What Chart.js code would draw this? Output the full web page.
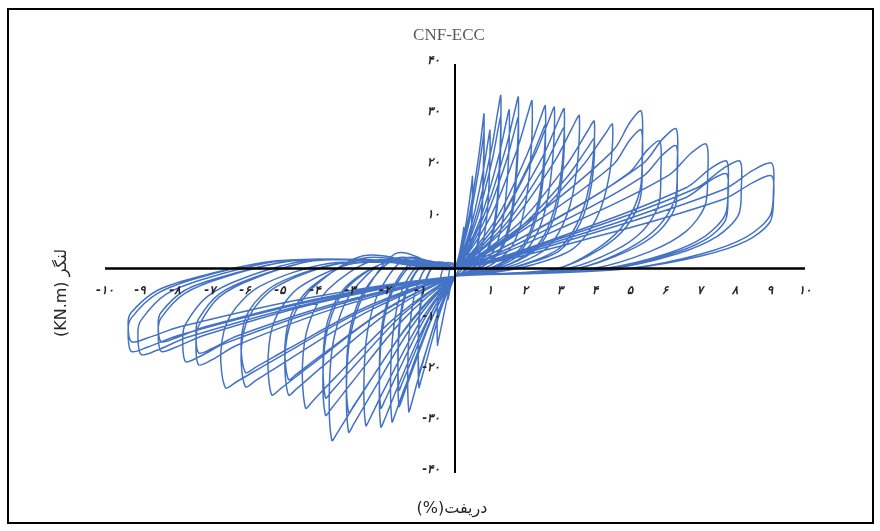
<!DOCTYPE html>
<html lang="fa">
<head>
    <meta charset="UTF-8">
    <title>CNF-ECC</title>
    <script src="https://cdn.jsdelivr.net/npm/chart.js"></script>
    <style>
        body {
            margin: 0;
            padding: 0;
            background: #fff;
        }

        #wrap {
            position: relative;
            width: 880px;
            height: 531px;
            overflow: hidden;
        }

        #frame {
            position: absolute;
            left: 7px;
            top: 8px;
            width: 863px;
            height: 512px;
            border: 2px solid #000;
            pointer-events: none;
        }

        .lbl {
            position: absolute;
            transform: translate(-50%, -50%);
            white-space: nowrap;
            color: #262626;
        }

        #title {
            left: 449px;
            top: 35px;
            font-family: "Liberation Serif", serif;
            font-size: 17px;
            color: #595959;
        }

        #xTitle {
            left: 452px;
            top: 507px;
            font-family: "DejaVu Sans", sans-serif;
            font-size: 16px;
        }

        #yTitle {
            left: 60px;
            top: 293px;
            font-family: "DejaVu Sans", sans-serif;
            font-size: 16px;
            transform: translate(-50%, -50%) rotate(-90deg);
        }
    </style>
</head>
<body>
    <div id="wrap">
        <canvas id="chart" width="880" height="531"></canvas>
        <div id="frame"></div>
        <div class="lbl" id="title">CNF-ECC</div>
        <div class="lbl" id="yTitle" dir="rtl">لنگر (KN.m)</div>
        <div class="lbl" id="xTitle" dir="rtl">دریفت(%)</div>
    </div>

    <script>
        const drift = [
            0, 0.11, 0.2, 0.24, 0.25, 0.25, 0.23, 0.19, 0.13, 0.05, 0, -0.08, -0.16, -0.19, -0.2, -0.2, -0.2, -0.17, -0.11, -0.04,
            0, 0.23, 0.4, 0.48, 0.5, 0.49, 0.45, 0.38, 0.25, 0.1, 0, -0.2, -0.4, -0.48, -0.5, -0.51, -0.49, -0.43, -0.28, -0.1,
            0, 0.37, 0.66, 0.79, 0.83, 0.81, 0.75, 0.62, 0.42, 0.17, 0, -0.41, -0.82, -0.98, -1.03, -1.05, -1.01, -0.88, -0.57, -0.21,
            0, 0.37, 0.66, 0.79, 0.83, 0.81, 0.75, 0.62, 0.42, 0.17, 0, -0.41, -0.82, -0.98, -1.03, -1.05, -1.01, -0.88, -0.57, -0.21,
            0, 0.45, 0.8, 0.95, 1, 0.98, 0.9, 0.75, 0.5, 0.2, 0, -0.53, -1.06, -1.25, -1.32, -1.35, -1.29, -1.12, -0.73, -0.26,
            0, 0.59, 1.05, 1.24, 1.31, 1.28, 1.18, 0.98, 0.66, 0.26, 0, -0.64, -1.28, -1.52, -1.6, -1.63, -1.57, -1.36, -0.88, -0.32,
            0, 0.59, 1.05, 1.24, 1.31, 1.28, 1.18, 0.98, 0.66, 0.26, 0, -0.64, -1.28, -1.52, -1.6, -1.63, -1.57, -1.36, -0.88, -0.32,
            0, 0.7, 1.24, 1.47, 1.55, 1.52, 1.4, 1.16, 0.78, 0.31, 0, -0.72, -1.44, -1.71, -1.8, -1.84, -1.76, -1.53, -0.99, -0.36,
            0, 0.81, 1.45, 1.72, 1.81, 1.77, 1.63, 1.36, 0.91, 0.36, 0, -0.85, -1.7, -2.01, -2.12, -2.16, -2.08, -1.8, -1.17, -0.42,
            0, 0.81, 1.45, 1.72, 1.81, 1.77, 1.63, 1.36, 0.91, 0.36, 0, -0.85, -1.7, -2.01, -2.12, -2.16, -2.08, -1.8, -1.17, -0.42,
            0, 0.99, 1.76, 2.09, 2.2, 2.16, 1.98, 1.65, 1.1, 0.44, 0, -1.02, -2.04, -2.42, -2.55, -2.6, -2.5, -2.17, -1.4, -0.51,
            0, 1.16, 2.06, 2.45, 2.58, 2.53, 2.32, 1.94, 1.29, 0.52, 0, -1.22, -2.43, -2.89, -3.04, -3.1, -2.98, -2.58, -1.67, -0.61,
            0, 1.16, 2.06, 2.45, 2.58, 2.53, 2.32, 1.94, 1.29, 0.52, 0, -1.22, -2.43, -2.89, -3.04, -3.1, -2.98, -2.58, -1.67, -0.61,
            0, 1.28, 2.27, 2.7, 2.84, 2.78, 2.56, 2.13, 1.42, 0.57, 0, -1.41, -2.82, -3.34, -3.52, -3.59, -3.45, -2.99, -1.94, -0.7,
            0, 1.4, 2.5, 2.96, 3.12, 3.06, 2.81, 2.34, 1.56, 0.62, 0, -1.48, -2.96, -3.52, -3.7, -3.77, -3.63, -3.15, -2.04, -0.74,
            0, 1.4, 2.5, 2.96, 3.12, 3.06, 2.81, 2.34, 1.56, 0.62, 0, -1.48, -2.96, -3.52, -3.7, -3.77, -3.63, -3.15, -2.04, -0.74,
            0, 1.6, 2.84, 3.37, 3.55, 3.48, 3.2, 2.66, 1.78, 0.71, 0, -1.71, -3.42, -4.06, -4.27, -4.36, -4.18, -3.63, -2.35, -0.85,
            0, 1.79, 3.18, 3.78, 3.98, 3.9, 3.58, 2.99, 1.99, 0.8, 0, -1.9, -3.81, -4.52, -4.76, -4.86, -4.66, -4.05, -2.62, -0.95,
            0, 1.79, 3.18, 3.78, 3.98, 3.9, 3.58, 2.99, 1.99, 0.8, 0, -1.9, -3.81, -4.52, -4.76, -4.86, -4.66, -4.05, -2.62, -0.95,
            0, 2.03, 3.6, 4.28, 4.5, 4.41, 4.05, 3.38, 2.25, 0.9, 0, -2.1, -4.19, -4.98, -5.24, -5.34, -5.14, -4.45, -2.88, -1.05,
            0, 2.39, 4.52, 5, 5.32, 5.35, 5.29, 4.89, 4.15, 2.93, 1.33, 0, -2.4, -4.79, -5.69, -5.99, -6.11, -5.87, -5.09, -3.29, -1.2,
            0, 2.39, 4.52, 5, 5.32, 5.35, 5.29, 4.89, 4.15, 2.93, 1.33, 0, -2.4, -4.79, -5.69, -5.99, -6.11, -5.87, -5.09, -3.29, -1.2,
            0, 2.63, 4.97, 5.5, 5.85, 5.88, 5.82, 5.38, 4.56, 3.22, 1.46, 0, -2.62, -5.25, -6.23, -6.56, -6.69, -6.43, -5.58, -3.61, -1.31,
            0, 2.84, 5.37, 5.94, 6.32, 6.35, 6.29, 5.81, 4.93, 3.48, 1.58, 0, -3.3, -6.23, -6.96, -7.33, -7.4, -7.33, -6.74, -5.72, -4.03, -1.83,
            0, 2.84, 5.37, 5.94, 6.32, 6.35, 6.29, 5.81, 4.93, 3.48, 1.58, 0, -3.3, -6.23, -6.96, -7.33, -7.4, -7.33, -6.74, -5.72, -4.03, -1.83,
            0, 3.23, 6.1, 6.75, 7.18, 7.22, 7.14, 6.61, 5.6, 3.95, 1.8, 0, -3.47, -6.55, -7.32, -7.7, -7.78, -7.7, -7.08, -6.01, -4.24, -1.93,
            0, 3.49, 6.6, 7.29, 7.76, 7.8, 7.72, 7.14, 6.05, 4.27, 1.94, 0, -3.78, -7.14, -7.98, -8.4, -8.48, -8.4, -7.73, -6.55, -4.62, -2.1,
            0, 3.49, 6.6, 7.29, 7.76, 7.8, 7.72, 7.14, 6.05, 4.27, 1.94, 0, -3.78, -7.14, -7.98, -8.4, -8.48, -8.4, -7.73, -6.55, -4.62, -2.1,
            0, 3.66, 6.92, 7.65, 8.14, 8.18, 8.1, 7.49, 6.35, 4.48, 2.04, 0, -4.04, -7.62, -8.52, -8.97, -9.06, -8.97, -8.25, -7, -4.93, -2.24,
            0, 4.07, 7.69, 8.51, 9.05, 9.1, 9, 8.33, 7.06, 4.98, 2.26, 0, -4.16, -7.86, -8.79, -9.25, -9.34, -9.25, -8.51, -7.22, -5.09, -2.31,
            0, 4.07, 7.69, 8.51, 9.05, 9.1, 9, 8.33, 7.06, 4.98, 2.26, 0, -4.16, -7.86, -8.79, -9.25, -9.34, -9.25, -8.51, -7.22, -5.09, -2.31, 0
        ];

        // moment (KN.m), same order as drift
        const moment = [
            0, 2.4, 5.6, 7.4, 8, 5.2, 2.8, 1.1, 0.2, -1, -1.5, -2.1, -4.7, -5.7, -6, -4.2, -2.4, -0.9, 1, 1,
            0, 5.4, 12.6, 16.7, 18, 11.7, 6.3, 2.5, 0.5, -1, -1.5, -5.3, -11.7, -14.3, -15, -10.5, -6, -2.3, 1, 1,
            0, 9.1, 21.1, 28.1, 30.2, 19.6, 10.6, 4.2, 0.9, -1, -1.5, -8.2, -18.2, -22.1, -23.3, -16.3, -9.3, -3.5, 1, 1,
            0, 8, 18.6, 24.7, 26.6, 17.3, 9.3, 3.7, 0.8, -1, -1.5, -7.2, -16, -19.5, -20.5, -14.4, -8.2, -3.1, 1, 1,
            0, 8.1, 18.9, 25.1, 27, 17.6, 9.5, 3.8, 0.8, -1, -1.5, -9.8, -21.8, -26.6, -28, -19.6, -11.2, -4.2, 1, 1,
            0, 10.1, 23.7, 31.4, 33.8, 22, 11.8, 4.7, 1, -1, -1.5, -9.5, -21.1, -25.7, -27, -18.9, -10.8, -4.1, 1, 1,
            0, 8.9, 20.8, 27.6, 29.7, 19.3, 10.4, 4.2, 0.9, -1, -1.5, -8.3, -18.6, -22.6, -23.8, -16.7, -9.5, -3.6, 1, 1,
            0, 9.3, 21.7, 28.8, 31, 20.2, 10.9, 4.3, 0.9, -1, -1.5, -10.5, -23.4, -28.5, -30, -21, -12, -4.5, 1, 1,
            0, 10.1, 23.5, 31.2, 33.5, 21.8, 11.7, 4.7, 1, -1, -1.5, -10.9, -24.2, -29.5, -31, -21.7, -12.4, -4.7, 1, 1,
            0, 8.9, 20.7, 27.4, 29.5, 19.2, 10.3, 4.1, 0.9, -1, -1.5, -9.6, -21.3, -25.9, -27.3, -19.1, -10.9, -4.1, 1.5, 1,
            0, 9.8, 23, 30.5, 32.8, 21.3, 11.5, 4.6, 1, -1, -1.5, -10.7, -23.9, -29.2, -30.7, -21.5, -12.3, -4.6, 2, 1,
            0, 9.5, 22.3, 29.6, 31.8, 20.7, 11.1, 4.5, 1, -1, -1.5, -11.2, -25, -30.4, -32, -22.4, -12.8, -4.8, 3, 1,
            0, 8.4, 19.6, 26, 28, 18.2, 9.8, 3.9, 0.8, -1, -1.5, -9.9, -22, -26.8, -28.2, -19.7, -11.3, -4.2, 2, 1,
            0, 9.5, 22.1, 29.3, 31.5, 20.5, 11, 4.4, 0.9, -1, -1.5, -11.8, -26.2, -31.9, -33.6, -23.5, -13.4, -5, 1.5, 1,
            0, 9.4, 21.8, 29, 31.2, 20.3, 10.9, 4.4, 0.9, -1, -1.5, -10, -22.4, -27.3, -28.7, -20.1, -11.5, -4.3, 1, 1,
            0, 8.3, 19.3, 25.6, 27.5, 17.9, 9.6, 3.9, 0.8, -1, -1.5, -8.9, -19.7, -24, -25.3, -17.7, -10.1, -3.8, 1, 1,
            0, 9, 20.9, 27.8, 29.9, 19.4, 10.5, 4.2, 0.9, -1, -1.5, -9.6, -21.3, -25.9, -27.3, -19.1, -10.9, -4.1, 1.5, 1,
            0, 8.6, 20.2, 26.8, 28.8, 18.7, 10.1, 4, 0.9, -1, -1.5, -8.6, -19.3, -23.5, -24.7, -17.3, -9.9, -3.7, 2.5, 1,
            0, 7.6, 17.7, 23.5, 25.3, 16.4, 8.9, 3.5, 0.8, -1, -1.5, -7.6, -16.9, -20.6, -21.7, -15.2, -8.7, -3.3, 2, 1,
            0, 8.5, 19.7, 26.2, 28.2, 18.3, 9.9, 3.9, 0.8, -1, -1.5, -8.6, -19.3, -23.5, -24.7, -17.3, -9.9, -3.7, 1, 1,
            0, 10.8, 23.1, 28.6, 30.8, 23.1, 15.4, 9.2, 4.3, 0, -1, -1.5, -8.1, -18, -21.9, -23.1, -16.2, -9.2, -3.5, 1, 1,
            0, 9.5, 20.3, 25.2, 27.1, 20.3, 13.6, 8.1, 3.8, 0, -1, -1.5, -7.1, -15.8, -19.3, -20.3, -14.2, -8.1, -3, 1, 1,
            0, 8.7, 18.7, 23.2, 24.9, 18.7, 12.5, 7.5, 3.5, 0, -1, -1.5, -8.2, -18.2, -22.1, -23.3, -16.3, -9.3, -3.5, 1, 1,
            0, 9.6, 20.5, 25.4, 27.3, 20.5, 13.7, 8.2, 3.8, 0, -1, -1.5, -7.5, -15, -17.9, -18.8, -14.1, -11.3, -5.6, -1.9, 1.5, 1.5,
            0, 8.4, 18, 22.3, 24, 18, 12, 7.2, 3.4, 0, -1, -1.5, -6.6, -13.2, -15.7, -16.5, -12.4, -9.9, -5, -1.7, 1.5, 1.5,
            0, 8.5, 18.2, 22.6, 24.3, 18.2, 12.2, 7.3, 3.4, 0, -1, -1.5, -7.3, -14.6, -17.3, -18.2, -13.7, -10.9, -5.5, -1.8, 1.5, 1.5,
            0, 7.4, 15.8, 19.5, 21, 15.8, 10.5, 6.3, 2.9, 0, -1, -1.5, -6.5, -13, -15.4, -16.2, -12.2, -9.7, -4.9, -1.6, 1.5, 1.5,
            0, 6.5, 13.9, 17.2, 18.5, 13.9, 9.3, 5.6, 2.6, 0, -1, -1.5, -5.7, -11.4, -13.6, -14.3, -10.7, -8.6, -4.3, -1.4, 1.5, 1.5,
            0, 7.4, 15.8, 19.5, 21, 15.8, 10.5, 6.3, 2.9, 0, -1, -1.5, -6.7, -13.4, -16, -16.8, -12.6, -10.1, -5, -1.7, 1.5, 1.5,
            0, 7.2, 15.5, 19.2, 20.6, 15.5, 10.3, 6.2, 2.9, 0, -1, -1.5, -6.5, -13, -15.4, -16.2, -12.2, -9.7, -4.9, -1.6, 1.5, 1.5,
            0, 6.3, 13.6, 16.8, 18.1, 13.6, 9.1, 5.4, 2.5, 0, -1, -1.5, -5.7, -11.4, -13.6, -14.3, -10.7, -8.6, -4.3, -1.4, 1.5, 1.5, 0
        ];

        const xTicks = [-10, -9, -8, -7, -6, -5, -4, -3, -2, -1, 1, 2, 3, 4, 5, 6, 7, 8, 9, 10];
        const xTickLabels = ['-۱۰', '-۹', '-۸', '-۷', '-۶', '-۵', '-۴', '-۳', '-۲', '-۱',
                             '۱', '۲', '۳', '۴', '۵', '۶', '۷', '۸', '۹', '۱۰'];
        const yTicks = [40, 30, 20, 10, -10, -20, -30, -40];
        const yTickLabels = ['۴۰', '۳۰', '۲۰', '۱۰', '-۱۰', '-۲۰', '-۳۰', '-۴۰'];

        const points = drift.map((d, i) => ({ x: d, y: moment[i] }));

        // axes cross at (0,0), labels sit beside the lines like the Excel original
        const crossAxes = {
            id: 'crossAxes',
            afterDatasetsDraw(chart) {
                const { ctx, scales: { x, y } } = chart;
                const x0 = x.getPixelForValue(0);
                const y0 = y.getPixelForValue(0);
                ctx.save();
                ctx.strokeStyle = '#000';
                ctx.lineWidth = 2.5;
                ctx.beginPath();
                ctx.moveTo(x.getPixelForValue(-10), y0);
                ctx.lineTo(x.getPixelForValue(10), y0);
                ctx.stroke();
                ctx.lineWidth = 2;
                ctx.beginPath();
                ctx.moveTo(x0, y.getPixelForValue(40));
                ctx.lineTo(x0, y.getPixelForValue(-40));
                ctx.stroke();

                ctx.fillStyle = '#262626';
                ctx.font = 'italic bold 12px "DejaVu Sans", sans-serif';
                ctx.textAlign = 'center';
                ctx.textBaseline = 'middle';
                xTicks.forEach((v, i) => {
                    ctx.fillText(xTickLabels[i], x.getPixelForValue(v), y0 + 22);
                });
                ctx.textAlign = 'right';
                yTicks.forEach((v, i) => {
                    ctx.fillText(yTickLabels[i], x0 - 15, y.getPixelForValue(v) - 3);
                });
                ctx.restore();
            }
        };

        new Chart(document.getElementById('chart').getContext('2d'), {
            type: 'scatter',
            data: {
                datasets: [{
                    data: points,
                    showLine: true,
                    borderColor: '#4472C4',
                    borderWidth: 1.5,
                    pointRadius: 0,
                    tension: 0.3
                }]
            },
            options: {
                responsive: false,
                animation: false,
                layout: { padding: { left: 105, right: 75, top: 64, bottom: 58 } },
                scales: {
                    x: { type: 'linear', min: -10, max: 10, display: false },
                    y: { type: 'linear', min: -40, max: 40, display: false }
                },
                plugins: {
                    legend: { display: false },
                    tooltip: { enabled: false }
                }
            },
            plugins: [crossAxes]
        });
    </script>
</body>
</html>
